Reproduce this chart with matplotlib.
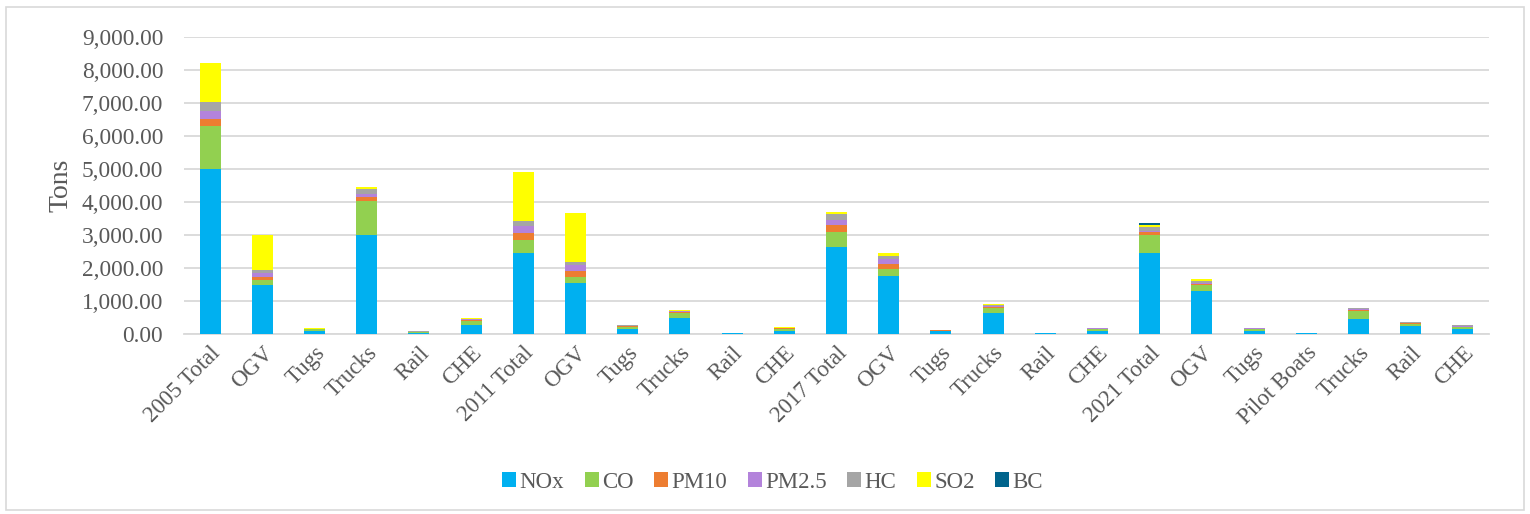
import matplotlib
matplotlib.use("Agg")
import matplotlib.pyplot as plt
from matplotlib.patches import Rectangle
from matplotlib.ticker import FuncFormatter
import numpy as np

# Emission source categories by inventory year
categories = ["2005 Total", "OGV", "Tugs", "Trucks", "Rail", "CHE",
              "2011 Total", "OGV", "Tugs", "Trucks", "Rail", "CHE",
              "2017 Total", "OGV", "Tugs", "Trucks", "Rail", "CHE",
              "2021 Total", "OGV", "Tugs", "Pilot Boats", "Trucks", "Rail", "CHE"]

# Emissions in tons per pollutant
nox  = [4990, 1490, 100, 3010, 45, 260, 2450, 1540, 160, 500, 22, 80,
        2640, 1750, 80, 625, 18, 90, 2460, 1300, 100, 18, 450, 255, 150]
co   = [1300, 150, 50, 1020, 20, 140, 390, 200, 60, 140, 10, 80,
        465, 220, 25, 150, 8, 60, 550, 190, 50, 8, 235, 60, 50]
pm10 = [240, 100, 5, 110, 5, 20, 220, 180, 15, 30, 3, 10,
        190, 150, 5, 40, 2, 10, 70, 25, 10, 3, 30, 15, 15]
pm25 = [240, 110, 5, 100, 5, 20, 220, 170, 15, 20, 3, 10,
        170, 140, 5, 40, 2, 10, 50, 30, 10, 3, 40, 15, 20]
hc   = [250, 90, 5, 140, 5, 20, 130, 80, 10, 20, 5, 10,
        170, 110, 5, 30, 3, 10, 120, 55, 10, 3, 20, 20, 35]
so2  = [1180, 1075, 5, 80, 5, 30, 1500, 1500, 10, 20, 2, 10,
        70, 80, 5, 20, 1, 5, 60, 80, 5, 1, 5, 10, 5]
bc   = [0, 0, 0, 0, 0, 0, 0, 0, 0, 0, 0, 0,
        0, 0, 0, 0, 0, 0, 40, 1, 1, 0, 1, 1, 1]

series = [("NOx", nox, "#00B0F0"), ("CO", co, "#92D050"),
          ("PM10", pm10, "#ED7D31"), ("PM2.5", pm25, "#B383DB"),
          ("HC", hc, "#A5A5A5"), ("SO2", so2, "#FFFF00"),
          ("BC", bc, "#00648C")]

plt.rcParams["font.family"] = ["Liberation Serif", "DejaVu Serif"]
text_color = "#595959"

fig = plt.figure(figsize=(15.3, 5.14), dpi=100)
ax = fig.add_axes([184 / 1530, 1 - 334 / 514, 1305 / 1530, 297 / 514])

x = np.arange(len(categories))
bottom = np.zeros(len(categories))
for name, vals, color in series:
    v = np.array(vals, dtype=float)
    ax.bar(x, v, width=0.4, bottom=bottom, color=color, label=name,
           edgecolor="none", linewidth=0, zorder=3)
    bottom += v

ax.set_xlim(-0.5, len(categories) - 0.5)
ax.set_ylim(0, 9000)
ax.set_yticks(np.arange(0, 9001, 1000))
ax.yaxis.set_major_formatter(FuncFormatter(lambda v, p: f"{v:,.2f}"))
ax.grid(axis="y", color="#D9D9D9", linewidth=1.3, zorder=0)
ax.set_axisbelow(True)
for side in ["top", "right", "left"]:
    ax.spines[side].set_visible(False)
ax.spines["bottom"].set_color("#D9D9D9")
ax.spines["bottom"].set_linewidth(1.3)

ax.set_xticks(x)
ax.set_xticklabels(categories, rotation=45, ha="right", va="top",
                   rotation_mode="anchor")
ax.tick_params(axis="x", length=0, pad=6, labelsize=16.5, labelcolor=text_color)
ax.tick_params(axis="y", length=0, pad=15, labelsize=16.8, labelcolor=text_color)

ax.set_ylabel("Tons", fontsize=20, color=text_color)
ax.yaxis.set_label_coords(-0.085, 0.5)

handles, labels = ax.get_legend_handles_labels()
fig.legend(handles, labels, loc="center", bbox_to_anchor=(0.505, 1 - 482 / 514),
           ncol=7, frameon=False, fontsize=16.5, handlelength=0.6,
           handleheight=0.6, handletextpad=0.15, columnspacing=0.9,
           labelcolor=text_color)

# light outer frame
fig.patches.append(Rectangle((6 / 1530, 4 / 514), 1518 / 1530, 503 / 514,
                             transform=fig.transFigure, fill=False,
                             edgecolor="#D9D9D9", linewidth=1.2))

fig.savefig("out.png", dpi=100)
